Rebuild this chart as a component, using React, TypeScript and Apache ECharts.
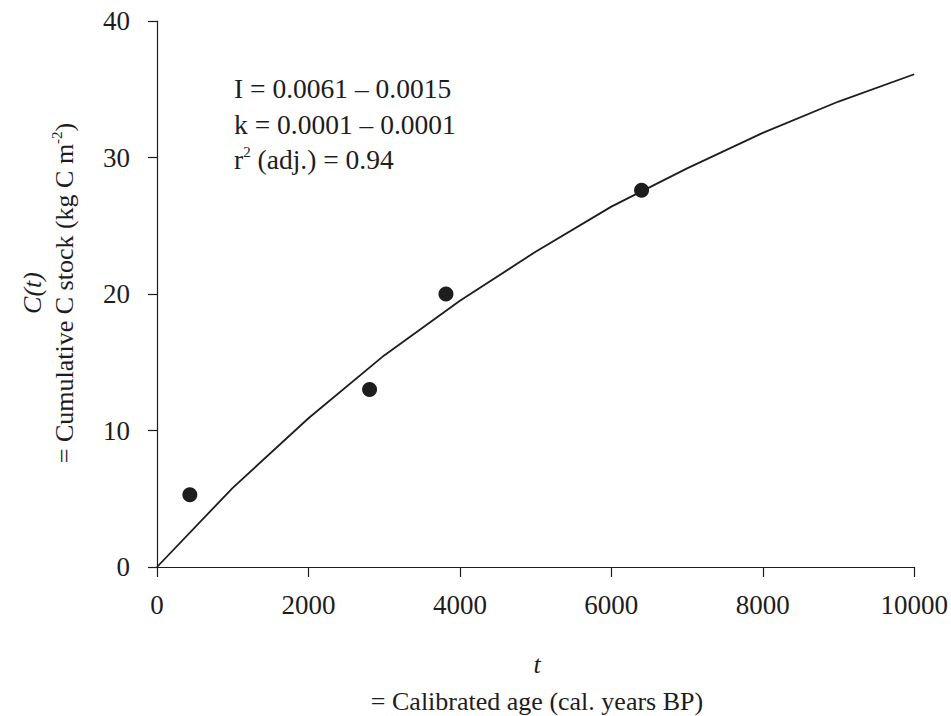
import { useEffect, useRef } from "react";
import * as echarts from "echarts";

// Fitted curve C(t) at 1000-year steps
const curveAge = [0, 1000, 2000, 3000, 4000, 5000, 6000, 7000, 8000, 9000, 10000];
const curveStock = [0, 5.8, 10.9, 15.5, 19.5, 23.1, 26.4, 29.2, 31.8, 34.1, 36.1];

// Measured samples
const sampleAge = [434, 2807, 3816, 6399];
const sampleStock = [5.3, 13.0, 20.0, 27.6];

// Axis ranges
const xMin = 0;
const xMax = 10000;
const xStep = 2000;
const yMin = 0;
const yMax = 40;
const yStep = 10;

// Texts
const fitLines = ["I = 0.0061 – 0.0015", "k = 0.0001 – 0.0001", "r{sup|2} (adj.) = 0.94"];
const xNameTop = "t";
const xNameBottom = "= Calibrated age (cal. years BP)";
const yNameTop = "C(t)";
const yNameBottom = "= Cumulative C stock (kg C m{sup|-2})";

const INK = "#1e1c1d";
const FONT = "Liberation Serif";
const FS = 26;
const TICK_FS = 27;
const NOTE_FS = 27.5;

export default function App() {
  const ref = useRef<HTMLDivElement>(null);
  useEffect(() => {
    const chart = echarts.init(ref.current!, null, { renderer: "svg" });
    const baseText = { fontFamily: FONT, fontSize: FS, fill: INK };
    const noteText = { fontFamily: FONT, fontSize: NOTE_FS, fill: INK };
    const supRich = {
      sup: { fontFamily: FONT, fontSize: 15, fill: INK, verticalAlign: "top", lineHeight: 30 },
    };
    chart.setOption({
      animation: false,
      backgroundColor: "#ffffff",
      grid: { left: 157, right: 34, top: 21, bottom: 149, containLabel: false },
      xAxis: {
        type: "value",
        min: xMin,
        max: xMax,
        interval: xStep,
        splitLine: { show: false },
        axisLine: { show: true, onZero: false, lineStyle: { color: INK, width: 1.2 } },
        axisTick: { show: true, length: 10, lineStyle: { color: INK, width: 1.2 } },
        axisLabel: {
          color: INK,
          fontFamily: FONT,
          fontSize: TICK_FS,
          margin: 24,
          formatter: (v: number) => String(v),
        },
      },
      yAxis: {
        type: "value",
        min: yMin,
        max: yMax,
        interval: yStep,
        splitLine: { show: false },
        axisLine: { show: true, onZero: false, lineStyle: { color: INK, width: 1.2 } },
        axisTick: { show: true, length: 9, lineStyle: { color: INK, width: 1.2 } },
        axisLabel: {
          color: INK,
          fontFamily: FONT,
          fontSize: TICK_FS,
          margin: 27,
          formatter: (v: number) => String(v),
        },
      },
      series: [
        {
          type: "line",
          data: curveAge.map((a, i) => [a, curveStock[i]]),
          showSymbol: false,
          symbol: "none",
          lineStyle: { color: INK, width: 1.8 },
          silent: true,
          z: 2,
        },
        {
          type: "scatter",
          data: sampleAge.map((a, i) => [a, sampleStock[i]]),
          symbol: "circle",
          symbolSize: 15,
          itemStyle: { color: INK, opacity: 1 },
          z: 3,
        },
      ],
      graphic: [
        ...fitLines.map((t, i) => ({
          type: "text",
          x: 234,
          y: [88, 124, 159][i],
          style: {
            ...noteText,
            text: t.includes("{sup|") ? t.replace(/^r/, "{b|r}").replace(/\} \(adj/, "}{b| (adj") + (t.includes("{sup|") ? "}" : "") : t,
            align: "left",
            verticalAlign: "middle",
            rich: { ...supRich, b: { ...noteText, lineHeight: 30 } },
          },
        })),
        {
          type: "text",
          x: 537,
          y: 664,
          style: {
            ...baseText,
            text: xNameTop,
            fontStyle: "italic",
            align: "center",
            verticalAlign: "middle",
          },
        },
        {
          type: "text",
          x: 537,
          y: 701,
          style: {
            ...baseText,
            text: xNameBottom,
            align: "center",
            verticalAlign: "middle",
          },
        },
        {
          type: "text",
          x: 32,
          y: 293,
          rotation: Math.PI / 2,
          style: {
            ...baseText,
            text: yNameTop,
            fontStyle: "italic",
            align: "center",
            verticalAlign: "middle",
          },
        },
        {
          type: "text",
          x: 64,
          y: 293,
          rotation: Math.PI / 2,
          style: {
            ...baseText,
            text: yNameBottom.replace(/^= Cumulative C stock \(kg C m/, "{b|= Cumulative C stock (kg C m}").replace(/\}\)$/, "}{b|)}"),
            align: "center",
            verticalAlign: "middle",
            rich: { ...supRich, b: { ...baseText, lineHeight: 30 } },
          },
        },
      ],
    });
    return () => chart.dispose();
  }, []);
  return (
    <div
      ref={ref}
      style={{ position: "fixed", left: 0, top: 0, width: 951, height: 716, background: "#fff" }}
    />
  );
}
